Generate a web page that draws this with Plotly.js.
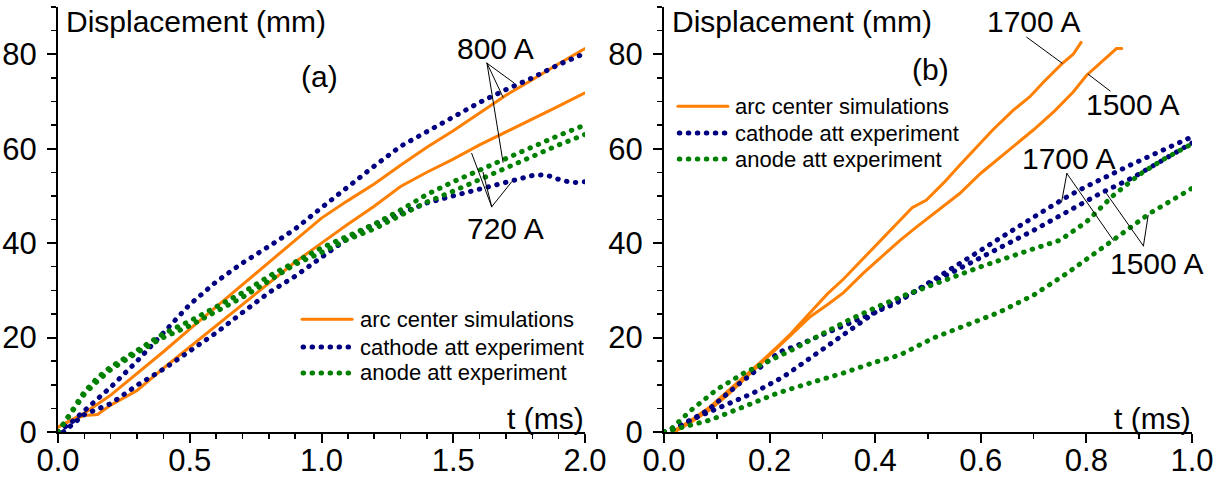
<!DOCTYPE html>
<html>
<head>
<meta charset="utf-8">
<script src="https://cdn.plot.ly/plotly-3.0.1.min.js"></script>
<style>
  html, body { margin: 0; padding: 0; background: #fff; }
  #chart { width: 1221px; height: 479px; }
  /* round caps turn the short dashes of the experiment traces into dots */
  path.js-line, .shapelayer path { stroke-linecap: round !important; }
</style>
</head>
<body>
<div id="chart"></div>
<script>
// ---------- panel (a): 800 A and 720 A ----------
const t_sim800 = [0, 0.1, 0.2, 0.3, 0.4, 0.5, 0.6, 0.7, 0.8, 0.9, 1.0, 1.1, 1.2, 1.3, 1.4, 1.5, 1.6, 1.7, 1.8, 1.9, 2.0];
const d_sim800 = [1.0, 4.0, 7.8, 12.3, 17.0, 21.8, 26.5, 31.3, 36.0, 40.8, 45.3, 49.0, 52.5, 56.5, 60.3, 63.8, 67.6, 71.3, 74.6, 78.0, 81.2];

const t_sim720 = [0, 0.05, 0.1, 0.15, 0.2, 0.3, 0.4, 0.5, 0.6, 0.7, 0.8, 0.9, 1.0, 1.1, 1.2, 1.3, 1.4, 1.5, 1.6, 1.7, 1.8, 1.9, 2.0];
const d_sim720 = [1.0, 2.5, 3.5, 3.7, 5.7, 8.8, 13.5, 18.0, 22.5, 27.0, 31.5, 36.0, 40.0, 44.0, 47.8, 52.0, 55.0, 57.8, 60.8, 63.5, 66.3, 69.0, 71.8];

const t_cat800 = [0, 0.05, 0.1, 0.2, 0.3, 0.4, 0.5, 0.6, 0.7, 0.8, 0.9, 1.0, 1.1, 1.2, 1.3, 1.4, 1.5, 1.6, 1.7, 1.8, 1.9, 2.0];
const d_cat800 = [0, 2.0, 4.5, 9.5, 15.0, 21.0, 27.0, 31.8, 35.8, 39.3, 43.0, 47.5, 52.0, 56.3, 60.5, 63.5, 66.8, 69.8, 72.5, 75.0, 77.8, 80.2];

const t_cat720 = [0.02, 0.1, 0.2, 0.3, 0.4, 0.5, 0.6, 0.7, 0.8, 0.9, 1.0, 1.1, 1.2, 1.3, 1.4, 1.5, 1.6, 1.7, 1.8, 1.85, 1.9, 1.95, 2.0];
const d_cat720 = [0, 3.7, 6.0, 9.9, 13.3, 17.2, 21.0, 25.3, 29.5, 33.0, 37.0, 41.0, 44.0, 46.3, 48.5, 50.0, 51.5, 53.0, 54.3, 54.5, 53.5, 52.8, 53.0];

const t_an800 = [0, 0.05, 0.1, 0.15, 0.2, 0.3, 0.4, 0.5, 0.6, 0.7, 0.8, 0.9, 1.0, 1.1, 1.2, 1.3, 1.4, 1.5, 1.6, 1.7, 1.8, 1.9, 2.0];
const d_an800 = [0, 4.5, 8.5, 11.5, 13.8, 17.3, 20.8, 23.5, 26.5, 29.5, 33.0, 36.0, 39.0, 41.5, 44.0, 47.0, 50.3, 53.0, 55.5, 58.0, 60.5, 62.8, 65.0];

const t_an720 = [0, 0.05, 0.1, 0.15, 0.2, 0.3, 0.4, 0.5, 0.6, 0.7, 0.8, 0.9, 1.0, 1.1, 1.2, 1.3, 1.4, 1.5, 1.6, 1.7, 1.8, 1.9, 2.0];
const d_an720 = [0, 4.0, 8.0, 10.8, 13.2, 16.8, 20.0, 22.5, 25.5, 28.5, 32.0, 35.5, 38.0, 40.8, 43.0, 46.0, 48.7, 51.0, 53.5, 56.0, 58.5, 60.8, 63.0];

// ---------- panel (b): 1700 A and 1500 A ----------
const t_sim1700 = [0.015, 0.05, 0.087, 0.12, 0.15, 0.185, 0.214, 0.24, 0.277, 0.31, 0.34, 0.375, 0.41, 0.447, 0.47, 0.497, 0.53, 0.56, 0.6, 0.623, 0.66, 0.693, 0.718, 0.754, 0.775, 0.79];
const d_sim1700 = [0, 2.4, 5.3, 8.5, 11.6, 15.0, 18.0, 20.8, 25.3, 29.3, 32.4, 36.5, 40.6, 44.9, 47.5, 49.1, 52.8, 56.5, 61.3, 64.0, 68.0, 71.0, 74.0, 78.0, 80.0, 82.5];

const t_sim1500 = [0.02, 0.05, 0.087, 0.12, 0.15, 0.18, 0.21, 0.24, 0.277, 0.31, 0.34, 0.377, 0.41, 0.447, 0.478, 0.52, 0.56, 0.6, 0.63, 0.67, 0.7, 0.74, 0.775, 0.8, 0.83, 0.857, 0.867];
const d_sim1500 = [0, 2.0, 4.7, 7.8, 11.0, 14.2, 17.3, 20.5, 24.4, 27.0, 29.5, 33.6, 37.0, 40.6, 43.4, 47.0, 50.5, 54.8, 57.6, 61.2, 64.0, 68.0, 72.0, 75.5, 78.5, 81.2, 81.2];

const t_cat1700 = [0, 0.03, 0.074, 0.09, 0.14, 0.185, 0.22, 0.254, 0.3, 0.365, 0.44, 0.5, 0.55, 0.6, 0.65, 0.7, 0.763, 0.8, 0.89, 1.0];
const d_cat1700 = [0, 1.3, 4.0, 5.3, 10.0, 13.8, 17.0, 18.4, 20.5, 23.7, 27.3, 31.5, 35.0, 38.5, 42.3, 45.5, 49.8, 52.0, 56.9, 62.5];

const t_cat1500 = [0, 0.02, 0.06, 0.106, 0.168, 0.225, 0.29, 0.35, 0.415, 0.48, 0.55, 0.6, 0.65, 0.7, 0.8, 0.826, 0.89, 1.0];
const d_cat1500 = [0, 0.8, 3.0, 5.3, 8.2, 11.6, 16.7, 21.6, 26.5, 30.0, 34.0, 36.8, 39.8, 42.7, 48.9, 50.5, 54.0, 61.2];

const t_an1700 = [0, 0.015, 0.05, 0.1, 0.15, 0.2, 0.25, 0.3, 0.35, 0.4, 0.45, 0.5, 0.6, 0.7, 0.75, 0.8, 0.85, 0.9, 0.95, 1.0];
const d_an1700 = [0, 0.8, 4.5, 9.0, 12.4, 15.0, 17.8, 20.8, 23.7, 26.3, 28.7, 30.8, 35.0, 38.8, 40.6, 44.5, 50.0, 54.5, 58.0, 61.0];

const t_an1500 = [0, 0.087, 0.15, 0.214, 0.277, 0.34, 0.4, 0.447, 0.51, 0.573, 0.636, 0.7, 0.763, 0.85, 0.92, 1.0];
const d_an1500 = [0, 2.5, 5.3, 8.2, 10.4, 12.5, 14.8, 16.3, 19.9, 22.6, 25.4, 29.0, 33.6, 40.6, 46.3, 51.6];

// ---------- text ----------
const legendNames = ['arc center simulations', 'cathode att experiment', 'anode att experiment'];
const yTitle = 'Displacement (mm)';
const xTitle = 't (ms)';

// ---------- styling ----------
const FONT = 'Liberation Sans, Arial, Helvetica, sans-serif';
const ORANGE = '#ff8000', NAVY = '#000080', GREEN = '#008000';
const simLine = {color: ORANGE, width: 3};
const catLine = {color: NAVY, width: 5, dash: '0.5px,8.5px'};
const anLine = {color: GREEN, width: 5, dash: '0.5px,8.5px'};

function tr(x, y, line, xa, ya) {
  return {x: x, y: y, type: 'scatter', mode: 'lines', line: line, xaxis: xa, yaxis: ya,
          hoverinfo: 'skip', showlegend: false};
}

const data = [
  tr(t_sim800, d_sim800, simLine, 'x', 'y'),
  tr(t_sim720, d_sim720, simLine, 'x', 'y'),
  tr(t_cat800, d_cat800, catLine, 'x', 'y'),
  tr(t_cat720, d_cat720, catLine, 'x', 'y'),
  tr(t_an800, d_an800, anLine, 'x', 'y'),
  tr(t_an720, d_an720, anLine, 'x', 'y'),
  tr(t_sim1700, d_sim1700, simLine, 'x2', 'y2'),
  tr(t_sim1500, d_sim1500, simLine, 'x2', 'y2'),
  tr(t_cat1700, d_cat1700, catLine, 'x2', 'y2'),
  tr(t_cat1500, d_cat1500, catLine, 'x2', 'y2'),
  tr(t_an1700, d_an1700, anLine, 'x2', 'y2'),
  tr(t_an1500, d_an1500, anLine, 'x2', 'y2')
];

const W = 1221, H = 479;
const px = v => v / W;
const py = v => 1 - v / H;
const TICKFONT = {family: FONT, size: 31, color: '#000'};

function xAxis(domain, range, dtick, minor) {
  return {
    domain: domain, range: range, dtick: dtick, tick0: 0, tickformat: '.1f',
    showline: true, linecolor: '#000', linewidth: 2, showgrid: false, zeroline: false,
    ticks: 'outside', ticklen: 9, tickwidth: 2, tickcolor: '#000', ticklabelstandoff: -9,
    minor: {dtick: minor, ticks: 'outside', ticklen: 5, tickwidth: 1.5, tickcolor: '#000'},
    tickfont: TICKFONT, fixedrange: true
  };
}
function yAxis(anchor) {
  return {
    domain: [py(432), py(7)], range: [0, 90], dtick: 20, tick0: 0, anchor: anchor,
    showline: true, linecolor: '#000', linewidth: 2, showgrid: false, zeroline: false,
    ticks: 'outside', ticklen: 9, tickwidth: 2, tickcolor: '#000', ticklabelstandoff: 4,
    minor: {dtick: 5, ticks: 'outside', ticklen: 5, tickwidth: 1.5, tickcolor: '#000'},
    tickfont: TICKFONT, fixedrange: true
  };
}

const big = {family: FONT, size: 30, color: '#000'};
const small = {family: FONT, size: 22, color: '#000'};

function label(text, x, y, font, xanchor) {
  return {text: text, xref: 'paper', yref: 'paper', x: px(x), y: py(y), showarrow: false,
          xanchor: xanchor || 'center', yanchor: 'middle', font: font};
}
function seg(xr, yr, x0, y0, x1, y1, line) {
  return {type: 'line', xref: xr, yref: yr, x0: x0, y0: y0, x1: x1, y1: y1,
          line: line || {color: '#000', width: 1}};
}
function legendText(i, xr, yr, x, y) {
  return {text: legendNames[i], xref: xr, yref: yr, x: x, y: y, showarrow: false,
          xanchor: 'left', yanchor: 'middle', font: small};
}

const annotations = [
  label(yTitle, 64, 22, big, 'left'),
  label(yTitle, 670, 22, big, 'left'),
  label(xTitle, 586, 418, big, 'right'),
  label(xTitle, 1193, 418, big, 'right'),
  label('(a)', 319, 76, big),
  label('(b)', 930, 70, big),
  label('800 A', 495, 49, big),
  label('720 A', 505, 229, big),
  label('1700 A', 1033, 22, big),
  label('1500 A', 1132, 104, big),
  label('1700 A', 1068, 158, big),
  label('1500 A', 1156, 263, big),
  legendText(0, 'x', 'y', 1.139, 23.9),
  legendText(1, 'x', 'y', 1.139, 18.0),
  legendText(2, 'x', 'y', 1.139, 12.5),
  legendText(0, 'x2', 'y2', 0.131, 69.0),
  legendText(1, 'x2', 'y2', 0.131, 63.3),
  legendText(2, 'x2', 'y2', 0.131, 57.8)
];

const shapes = [
  // legend samples, panel (a)
  seg('x', 'y', 0.926, 23.9, 1.116, 23.9, simLine),
  seg('x', 'y', 0.93, 18.0, 1.11, 18.0, catLine),
  seg('x', 'y', 0.93, 12.5, 1.11, 12.5, anLine),
  // legend samples, panel (b)
  seg('x2', 'y2', 0.0265, 69.0, 0.121, 69.0, simLine),
  seg('x2', 'y2', 0.029, 63.3, 0.118, 63.3, catLine),
  seg('x2', 'y2', 0.029, 57.8, 0.118, 57.8, anLine),
  // leader lines, panel (a)
  seg('x', 'y', 1.628, 78.1, 1.731, 73.9),
  seg('x', 'y', 1.628, 78.1, 1.689, 70.9),
  seg('x', 'y', 1.628, 78.1, 1.689, 57.1),
  seg('x', 'y', 1.646, 47.7, 1.570, 59.0),
  seg('x', 'y', 1.646, 47.7, 1.613, 55.0),
  seg('x', 'y', 1.646, 47.7, 1.722, 53.0),
  // leader lines, panel (b)
  seg('x2', 'y2', 0.687, 83.6, 0.754, 78.1),
  seg('x2', 'y2', 0.845, 72.2, 0.803, 75.8),
  seg('x2', 'y2', 0.763, 54.75, 0.753, 48.7),
  seg('x2', 'y2', 0.763, 54.75, 0.851, 40.6),
  seg('x2', 'y2', 0.908, 39.4, 0.838, 50.5),
  seg('x2', 'y2', 0.908, 39.4, 0.917, 45.9)
];

const layout = {
  width: W, height: H,
  margin: {l: 0, r: 0, t: 0, b: 0, pad: 0},
  paper_bgcolor: '#fff', plot_bgcolor: '#fff',
  showlegend: false,
  font: {family: FONT, color: '#000'},
  xaxis: Object.assign(xAxis([px(58), px(585)], [0, 2], 0.5, 0.1), {anchor: 'y'}),
  yaxis: yAxis('x'),
  xaxis2: Object.assign(xAxis([px(664), px(1192)], [0, 1], 0.2, 0.1), {anchor: 'y2'}),
  yaxis2: yAxis('x2'),
  annotations: annotations,
  shapes: shapes
};

Plotly.newPlot('chart', data, layout, {staticPlot: true, displayModeBar: false});
</script>
</body>
</html>
